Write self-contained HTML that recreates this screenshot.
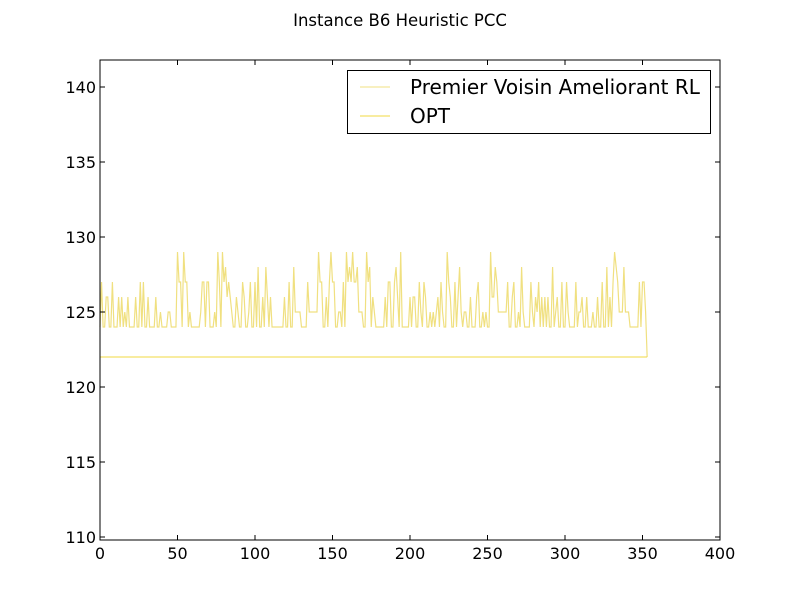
<!DOCTYPE html>
<html><head><meta charset="utf-8"><style>
body{margin:0;background:#fff;}
svg text{font-family:"DejaVu Sans","Liberation Sans",sans-serif;}
</style></head><body>
<svg id="chart" width="800" height="600" xmlns="http://www.w3.org/2000/svg">
<rect width="800" height="600" fill="#fff"/>
<text x="400" y="26" text-anchor="middle" font-size="16.5">Instance B6 Heuristic PCC</text>
<g id="marks"></g>
<g id="axes"></g>
<g>
<rect x="347.5" y="70.5" width="363" height="63" fill="#fff" stroke="#000"/>
<line x1="360" y1="87" x2="390" y2="87" stroke="#f0e080" stroke-width="1"/>
<text x="410" y="94" font-size="20">Premier Voisin Ameliorant RL</text>
<line x1="360" y1="116" x2="390" y2="116" stroke="#f0d840" stroke-width="1"/>
<text x="410" y="123" font-size="20">OPT</text>
</g>
</svg>
<script>
const xTicks=[0,50,100,150,200,250,300,350,400];
const yTicks=[110,115,120,125,130,135,140];
const optValue=122;
const rlValues=[
124,127,124,124,126,126,124,124,127,124,124,124,126,124,126,124,125,124,126,124,
124,124,124,126,124,124,127,124,127,124,124,126,124,124,124,124,126,124,124,125,
124,124,124,124,125,125,124,124,124,124,129,127,127,124,129,127,127,124,125,124,
124,124,124,124,124,125,127,127,124,127,127,124,124,124,125,124,129,127,124,129,
127,128,126,127,126,125,124,124,126,125,124,124,127,126,124,124,125,127,124,124,
127,124,128,124,124,126,124,128,126,124,126,124,124,124,124,124,124,124,124,126,
124,124,127,124,124,128,125,125,125,125,124,124,124,124,127,125,125,125,125,125,
125,129,127,127,124,124,126,124,127,129,127,127,124,124,125,125,124,127,124,129,
127,128,127,129,127,127,128,125,125,125,124,124,129,127,128,124,126,125,124,124,
124,124,124,124,126,124,127,127,124,124,127,128,126,124,129,124,124,124,124,124,
126,124,126,126,124,124,127,125,124,127,126,124,124,125,124,125,124,125,126,124,
127,125,124,124,129,127,126,124,124,127,124,126,128,125,124,125,125,124,124,126,
124,124,124,126,127,124,124,125,124,125,124,124,129,126,126,128,127,125,125,125,
125,125,125,127,124,124,126,127,124,124,125,124,128,125,124,124,124,124,127,125,
124,126,125,127,124,126,124,126,124,126,124,124,128,124,125,126,124,124,127,124,
124,127,125,124,124,124,124,127,124,125,125,126,124,124,126,124,124,124,125,124,
124,126,124,124,127,124,124,128,124,126,124,127,129,128,127,125,125,125,128,125,
125,125,124,124,124,124,124,124,127,124,127,127,125,122];
const L=100,R=720,T=60,B=540,xMin=0,xMax=400,yMin=109.8,yMax=141.8;
const xs=v=>L+(v-xMin)/(xMax-xMin)*(R-L);
const ys=v=>B-(v-yMin)/(yMax-yMin)*(B-T);
const NS="http://www.w3.org/2000/svg";
const marks=document.getElementById('marks'),axes=document.getElementById('axes');
function mk(tag,attrs,parent){const e=document.createElementNS(NS,tag);for(const k in attrs)e.setAttribute(k,attrs[k]);parent.appendChild(e);return e;}
let d=rlValues.map((v,i)=>(i?'L':'M')+xs(i).toFixed(2)+' '+ys(v).toFixed(2)).join(' ');
const rl=mk('path',{d:d,fill:'none',stroke:'#f0e080','stroke-width':1.2},marks);


const opt=mk('line',{x1:xs(0),x2:xs(rlValues.length-1),y1:ys(optValue),y2:ys(optValue),stroke:'#f0d840','stroke-width':1},marks);


const frame=mk('rect',{x:L,y:T,width:R-L,height:B-T,fill:'none',stroke:'#000','stroke-width':1},axes);


xTicks.forEach(t=>{const x=xs(t);
mk('line',{x1:x,x2:x,y1:B,y2:B-5,stroke:'#000'},axes);
mk('line',{x1:x,x2:x,y1:T,y2:T+5,stroke:'#000'},axes);
const tx=mk('text',{x:x,y:B+19,'text-anchor':'middle','font-size':16},axes);tx.textContent=t;

});
yTicks.forEach(t=>{const y=ys(t);
mk('line',{x1:L,x2:L+5,y1:y,y2:y,stroke:'#000'},axes);
mk('line',{x1:R,x2:R-5,y1:y,y2:y,stroke:'#000'},axes);
const tx=mk('text',{x:L-4,y:y+6,'text-anchor':'end','font-size':16},axes);tx.textContent=t;

});
</script>
</body></html>
